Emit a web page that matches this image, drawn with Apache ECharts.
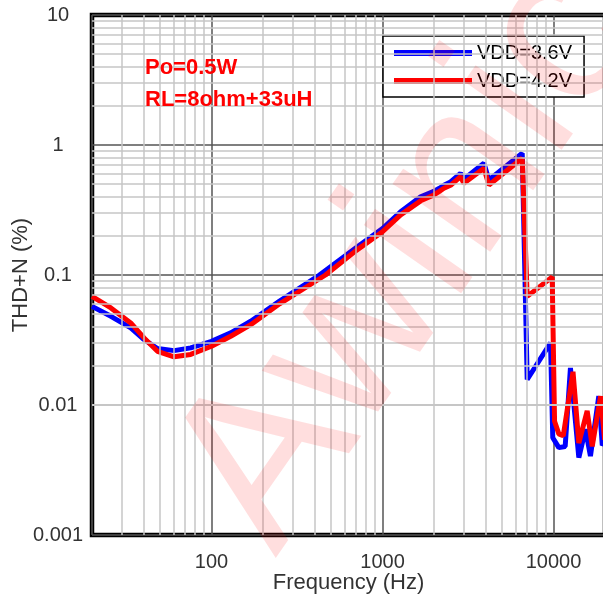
<!DOCTYPE html>
<html><head><meta charset="utf-8">
<script src="https://cdn.jsdelivr.net/npm/echarts@6/dist/echarts.min.js"></script>
<style>html,body{margin:0;padding:0;background:#fff}#c{width:603px;height:598px}</style>
</head><body><div id="c"></div>
<script>
const seriesNames = ['VDD=3.6V', 'VDD=4.2V'];
const xTickLabels = ['100', '1000', '10000'];
const yTickLabels = ['0.001', '0.01', '0.1', '1', '10'];
const minorX = [30,40,50,60,70,80,90,200,300,400,500,600,700,800,900,2000,3000,4000,5000,6000,7000,8000,9000];
const minorY = [0.002,0.003,0.004,0.005,0.006,0.007,0.008,0.009,0.02,0.03,0.04,0.05,0.06,0.07,0.08,0.09,0.2,0.3,0.4,0.5,0.6,0.7,0.8,0.9,2,3,4,5,6,7,8,9];

const freqBlue = [20, 25.8, 33.7, 40.3, 48.3, 60.4, 75.5, 100, 129.5, 169.6, 250, 428, 700, 1000, 1276, 1671, 1996, 2150, 2286, 2500, 2858, 2991, 3917, 4190, 6561, 7016, 9605, 9900, 10740, 11700, 12560, 14060, 15380, 16440, 18400, 19280, 20000];
const thdBlue  = [0.0574, 0.0481, 0.0392, 0.0319, 0.0272, 0.0262, 0.0275, 0.0309, 0.0359, 0.0441, 0.063, 0.1, 0.162, 0.228, 0.306, 0.399, 0.44, 0.465, 0.49, 0.52, 0.606, 0.545, 0.724, 0.539, 0.863, 0.0157, 0.0301, 0.0056, 0.0047, 0.0048, 0.0193, 0.00394, 0.0065, 0.00405, 0.0117, 0.0049, 0.0052];

const freqRed = [20, 25.8, 33.7, 40.3, 48.3, 60.4, 75.5, 100, 129.5, 169.6, 250, 464, 700, 1000, 1276, 1671, 1996, 2150, 2286, 2500, 2858, 2991, 3917, 4190, 6561, 7016, 9823, 10140, 10740, 11400, 13000, 14060, 15730, 16840, 18840, 19900];
const thdRed  = [0.0685, 0.0558, 0.0428, 0.0328, 0.0259, 0.0235, 0.0245, 0.0283, 0.0338, 0.0415, 0.060, 0.1, 0.154, 0.215, 0.290, 0.372, 0.413, 0.44, 0.465, 0.49, 0.571, 0.508, 0.662, 0.493, 0.79, 0.0685, 0.0965, 0.0075, 0.0060, 0.0058, 0.018, 0.0051, 0.009, 0.0048, 0.0117, 0.0054];

const pair = (xs, ys) => xs.map((x, i) => [x, ys[i]]);
const FONT = 'Liberation Sans, Arial, sans-serif';

const chart = echarts.init(document.getElementById('c'), null, {renderer: 'canvas'});
chart.setOption({
  animation: false,
  backgroundColor: '#fff',
  grid: {left: 92, top: 15, right: -2, bottom: 63, show: true, borderColor: '#000', borderWidth: 4.5,
    backgroundColor: 'transparent', containLabel: false, outerBoundsMode: 'none'},
  xAxis: {
    type: 'log', logBase: 10, min: 20, max: 20000,
    name: 'Frequency (Hz)', nameLocation: 'middle', nameGap: 37, nameMoveOverlap: false,
    nameTextStyle: {fontSize: 22, color: '#333', fontFamily: FONT},
    axisLine: {show: false}, axisTick: {show: false},
    axisLabel: {fontSize: 20, color: '#333', fontFamily: FONT, margin: 17, showMinLabel: false, showMaxLabel: false,
      formatter: v => { const s = String(Math.round(v)); return xTickLabels.includes(s) ? s : ''; }},
    splitLine: {show: true, lineStyle: {color: '#555', width: 1.5}},
    minorTick: {show: false}, minorSplitLine: {show: false}
  },
  yAxis: {
    type: 'log', logBase: 10, min: 0.001, max: 10,
    name: 'THD+N (%)', nameLocation: 'middle', nameGap: 60, nameMoveOverlap: false,
    nameTextStyle: {fontSize: 22, color: '#333', fontFamily: FONT},
    axisLine: {show: false}, axisTick: {show: false},
    axisLabel: {fontSize: 20, color: '#333', fontFamily: FONT, margin: 34, align: 'center',
      formatter: v => { const s = String(Number(v.toPrecision(3))); return yTickLabels.includes(s) ? s : ''; }},
    splitLine: {show: true, lineStyle: {color: '#555', width: 1.5}}
  },
  legend: {
    data: seriesNames, orient: 'vertical', left: 383, top: 36,
    backgroundColor: '#fff', borderColor: '#000', borderWidth: 1.5,
    padding: [7, 12, 6, 8], itemGap: 8, itemWidth: 78, itemHeight: 20,
    itemTextGap: 7,
    lineStyle: {width: 6},
    itemStyle: {opacity: 0},
    textStyle: {fontSize: 20, color: '#000', fontFamily: FONT, lineHeight: 20}
  },
  graphic: [
    {type: 'text', left: 145, top: 57, silent: true, z: 50,
      style: {text: 'Po=0.5W', font: 'bold 22px ' + FONT, fill: '#ff0000'}},
    {type: 'text', left: 145, top: 89, silent: true, z: 50,
      style: {text: 'RL=8ohm+33uH', font: 'bold 22px ' + FONT, fill: '#ff0000'}},
    {type: 'text', x: 410, y: 258, rotation: 55 * Math.PI / 180, silent: true, z: 100,
      style: {text: 'Awinic', font: '225px ' + FONT, fill: 'rgba(255,0,0,0.13)', align: 'center', verticalAlign: 'middle'}}
  ],
  series: [
    {type: 'line', name: '_grid', data: [[20, 0.001]], symbol: 'none', silent: true, z: 1,
      lineStyle: {opacity: 0},
      markLine: {silent: true, symbol: ['none', 'none'], label: {show: false}, animation: false,
        lineStyle: {color: '#c6c6c6', width: 1.5, type: 'solid'},
        data: minorX.map(v => ({xAxis: v})).concat(minorY.map(v => ({yAxis: v})))}},
    {type: 'line', name: seriesNames[0], data: pair(freqBlue, thdBlue), symbol: 'none', z: 3,
      lineStyle: {color: '#0000ff', width: 5}, itemStyle: {color: '#0000ff'}},
    {type: 'line', name: seriesNames[1], data: pair(freqRed, thdRed), symbol: 'none', z: 4,
      lineStyle: {color: '#ff0000', width: 5}, itemStyle: {color: '#ff0000'}}
  ]
});
</script></body></html>
